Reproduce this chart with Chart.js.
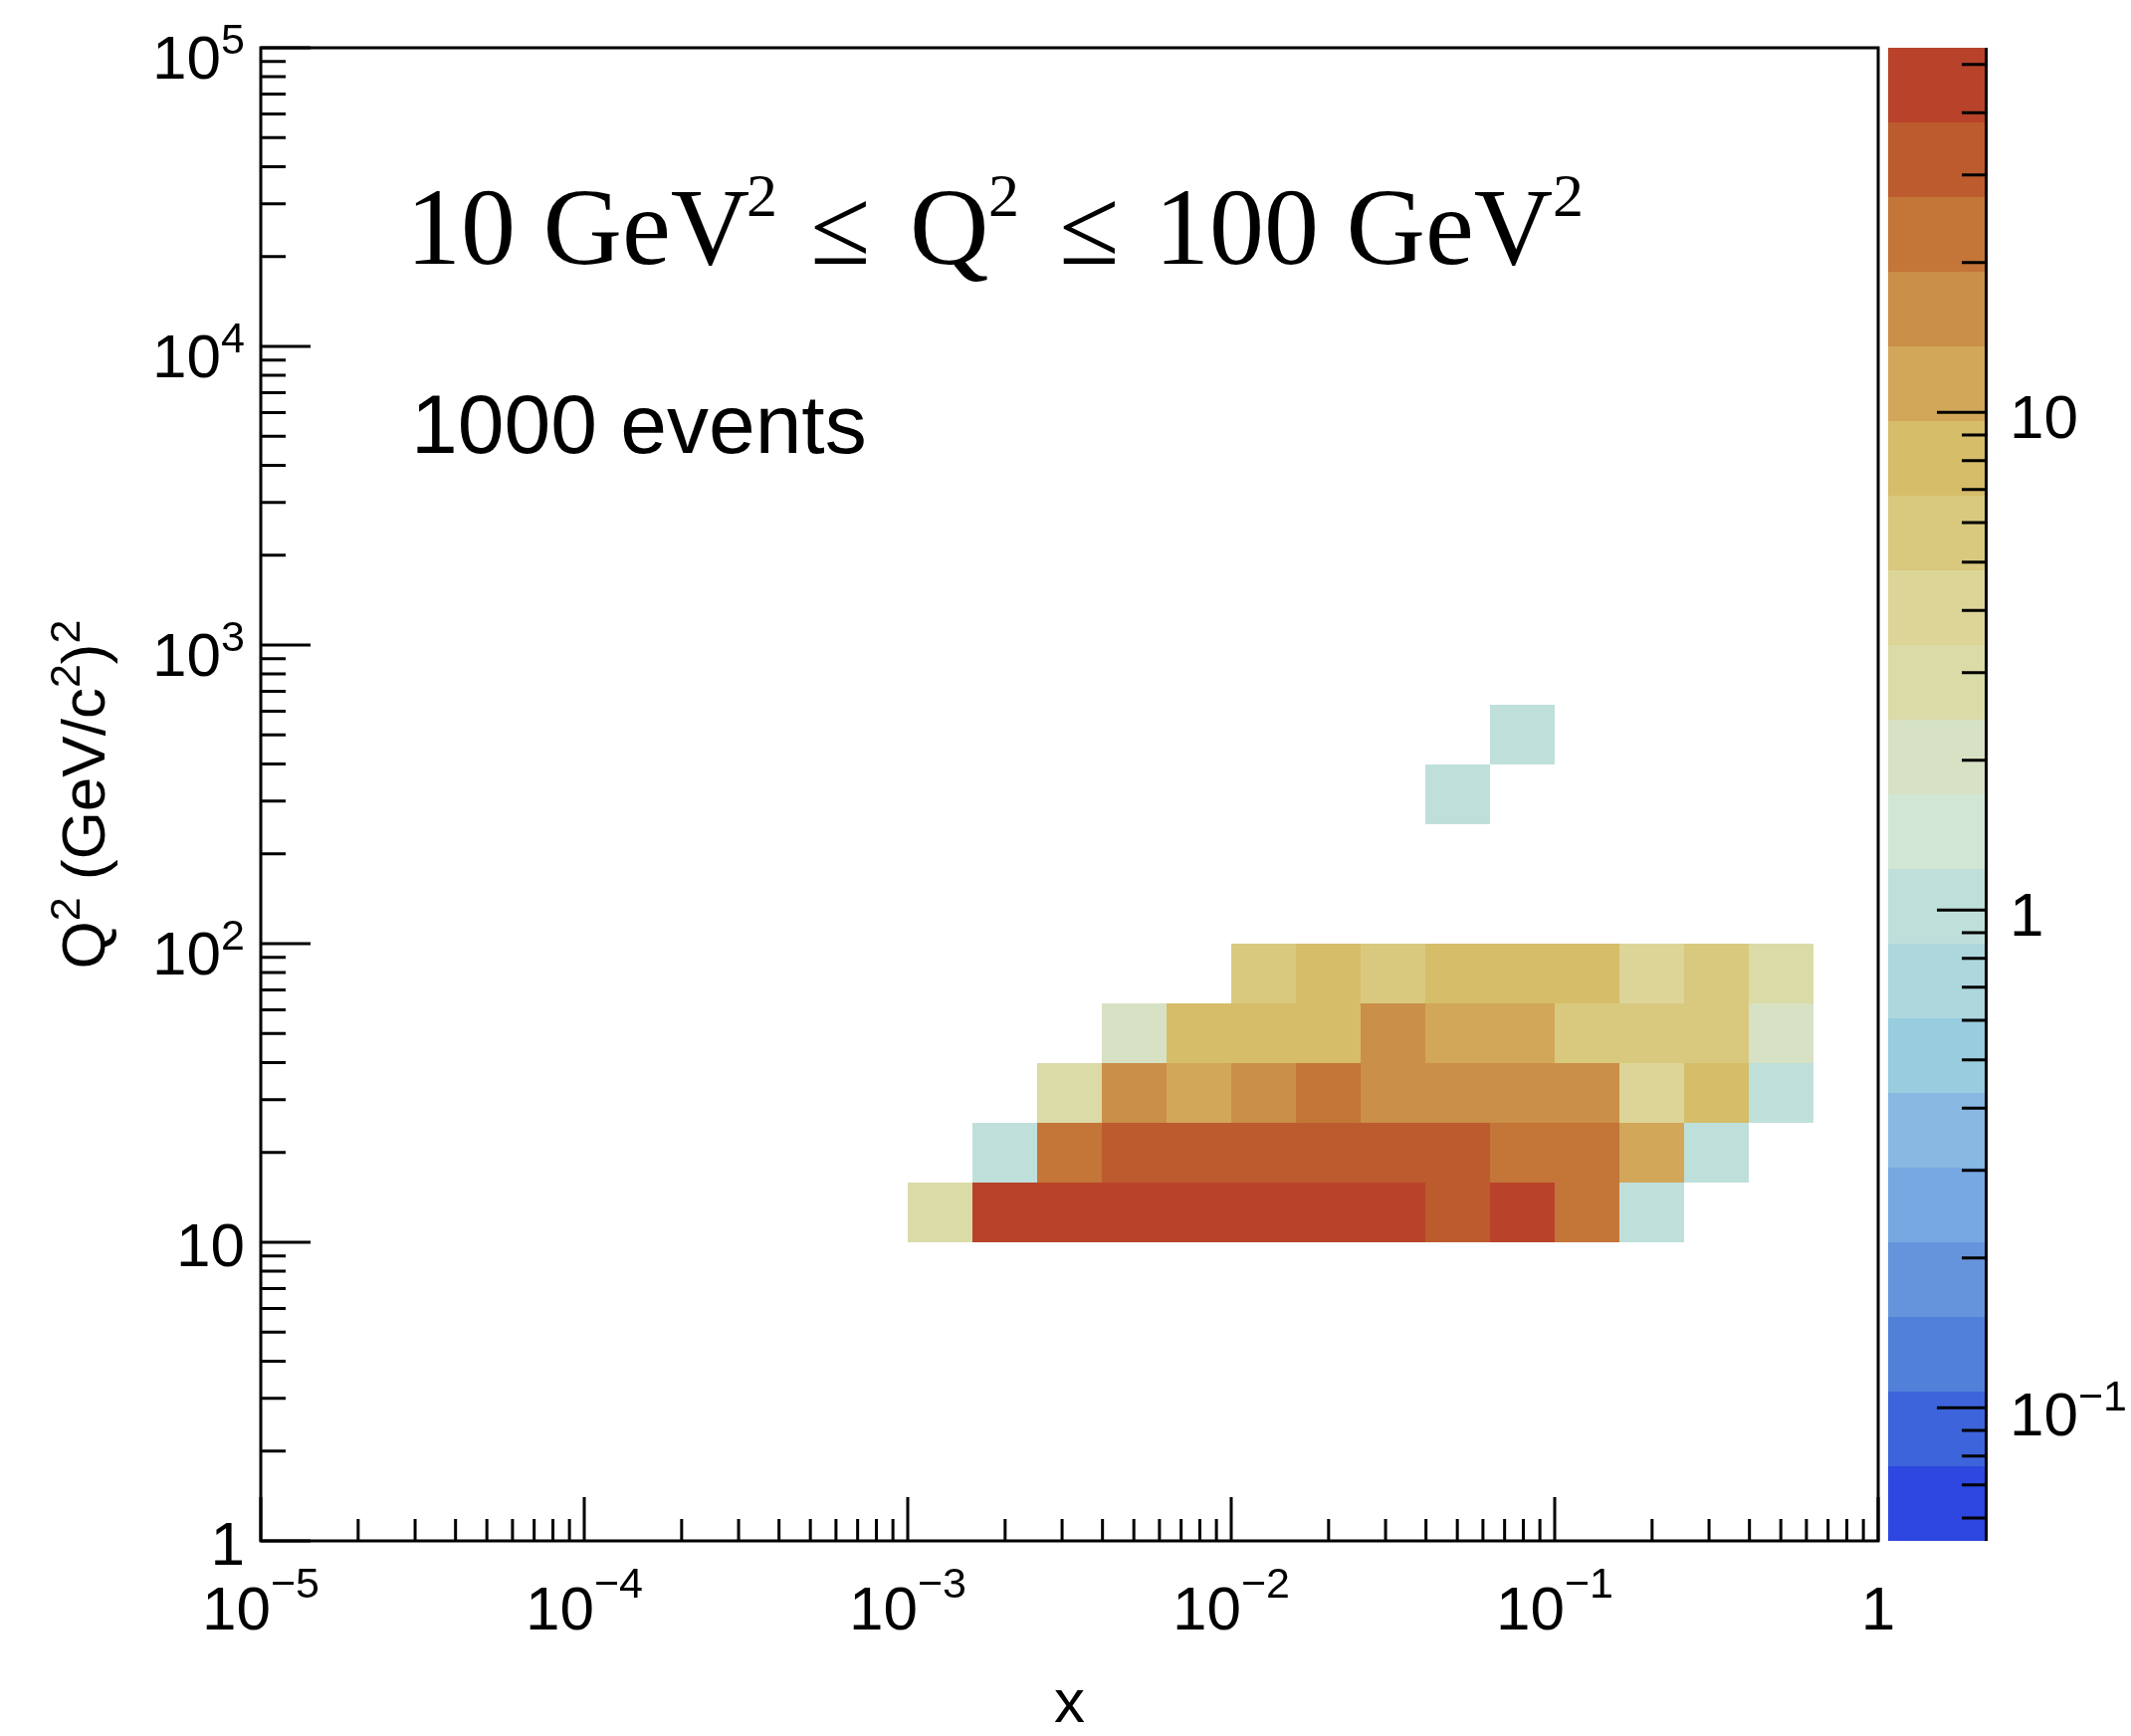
<!DOCTYPE html>
<html>
<head>
<meta charset="utf-8">
<script src="https://cdn.jsdelivr.net/npm/chart.js@4.4.1/dist/chart.umd.min.js"></script>
<style>
  html, body { margin: 0; padding: 0; background: #ffffff; }
  #wrap { width: 2141px; height: 1744px; }
</style>
</head>
<body>
<div id="wrap"><canvas id="c" width="2141" height="1744"></canvas></div>
<script>
// ---------------- data ----------------
// bin edges (x: Bjorken x, log bins of 0.2 decade; Q2 in GeV^2)
const xBinEdges = [0.001, 0.001585, 0.002512, 0.003981, 0.00631, 0.01, 0.01585, 0.02512, 0.03981, 0.0631, 0.1, 0.1585, 0.2512, 0.3981, 0.631];
const q2BinEdges = [10, 15.85, 25.12, 39.81, 63.1, 100, 158.5, 251.2, 398.1, 631];
// event counts per Q2 bin (one value per x bin, 0 = empty)
const countsQ2bin1 = [3, 44, 47, 50, 46, 49, 45, 42, 34, 40, 24, 1, 0, 0];
const countsQ2bin2 = [0, 1, 23, 30, 35, 33, 36, 31, 29, 25, 21, 12, 1, 0];
const countsQ2bin3 = [0, 0, 3, 17, 12, 16, 22, 18, 17, 15, 14, 4, 8, 1];
const countsQ2bin4 = [0, 0, 0, 2, 8, 9, 9, 15, 11, 12, 6, 6, 5, 2];
const countsQ2bin5 = [0, 0, 0, 0, 0, 6, 8, 6, 8, 9, 8, 4, 6, 3];
const countsQ2bin6 = [0, 0, 0, 0, 0, 0, 0, 0, 0, 0, 0, 0, 0, 0];
const countsQ2bin7 = [0, 0, 0, 0, 0, 0, 0, 0, 0, 0, 0, 0, 0, 0];
const countsQ2bin8 = [0, 0, 0, 0, 0, 0, 0, 0, 1, 0, 0, 0, 0, 0];
const countsQ2bin9 = [0, 0, 0, 0, 0, 0, 0, 0, 0, 1, 0, 0, 0, 0];

// axis ranges and tick labels
const xRange = [1e-5, 1];
const q2Range = [1, 1e5];
const zRange = [0.054, 54];
const xMajorTicks = [1e-5, 1e-4, 1e-3, 1e-2, 1e-1, 1];
const xTickLabels = ['10^\u22125', '10^\u22124', '10^\u22123', '10^\u22122', '10^\u22121', '1'];
const yMajorTicks = [1, 10, 100, 1000, 10000, 100000];
const yTickLabels = ['1', '10', '10^2', '10^3', '10^4', '10^5'];
const zMajorTicks = [0.1, 1, 10];
const zTickLabels = ['10^\u22121', '1', '10'];
const xTitle = 'x';
const yTitleParts = [['Q', 0], ['2', 1], [' (GeV/c', 0], ['2', 1], [')', 0], ['2', 1]];
const titleParts = [['10 GeV', 0], ['2', 1], ['\u2264', 0], ['Q', 0], ['2', 1], ['\u2264', 0], ['100 GeV', 0], ['2', 1]];
const eventsLabel = '1000 events';

// colour palette (low -> high), 20 contour levels
const palette = ['#2D47E0', '#3D64DA', '#5180D8', '#6694DC', '#78A8E2', '#88B9E2', '#98CCDF', '#ADD7DD',
                 '#BFE0DA', '#D1E6D5', '#D7E2C4', '#DBDBA8', '#DDD598', '#D9C97E', '#D6BD6A', '#D2A75A',
                 '#CA8F48', '#C47538', '#BC5C2E', '#B8432A'];

// ---------------- build cells ----------------
const countRows = [countsQ2bin1, countsQ2bin2, countsQ2bin3, countsQ2bin4, countsQ2bin5,
                   countsQ2bin6, countsQ2bin7, countsQ2bin8, countsQ2bin9];
const cells = [];
countRows.forEach((row, j) => {
  row.forEach((n, i) => {
    if (n > 0) {
      cells.push({
        x: Math.sqrt(xBinEdges[i] * xBinEdges[i + 1]),
        y: Math.sqrt(q2BinEdges[j] * q2BinEdges[j + 1]),
        v: n,
        xlo: xBinEdges[i], xhi: xBinEdges[i + 1],
        ylo: q2BinEdges[j], yhi: q2BinEdges[j + 1]
      });
    }
  });
});

function colorFor(v) {
  const l0 = Math.log10(zRange[0]), l1 = Math.log10(zRange[1]);
  let idx = Math.floor(palette.length * (Math.log10(v) - l0) / (l1 - l0));
  idx = Math.max(0, Math.min(palette.length - 1, idx));
  return palette[idx];
}

// ---------------- drawing helpers ----------------
const SANS = '"Liberation Sans", Arial, Helvetica, sans-serif';
const SERIF = '"Liberation Serif", "Times New Roman", Times, serif';

function supWidth(ctx, label, F, Fs) {
  const p = label.split('^');
  ctx.font = F + 'px ' + SANS;
  let w = ctx.measureText(p[0]).width;
  if (p.length > 1) { ctx.font = Fs + 'px ' + SANS; w += ctx.measureText(p[1]).width; }
  return w;
}
function drawSupLabel(ctx, label, x, base, align, F, Fs, raise) {
  const p = label.split('^');
  const w = supWidth(ctx, label, F, Fs);
  let sx = x;
  if (align === 'center') sx = x - w / 2;
  else if (align === 'right') sx = x - w;
  ctx.textAlign = 'left';
  ctx.textBaseline = 'alphabetic';
  ctx.font = F + 'px ' + SANS;
  ctx.fillText(p[0], sx, base);
  if (p.length > 1) {
    const w0 = ctx.measureText(p[0]).width;
    ctx.font = Fs + 'px ' + SANS;
    ctx.fillText(p[1], sx + w0, base - raise);
  }
}
function minorValues(lo, hi) {
  const out = [];
  for (let e = Math.round(Math.log10(lo)) - 1; e <= Math.round(Math.log10(hi)); e++) {
    for (let m = 2; m <= 9; m++) {
      const v = m * Math.pow(10, e);
      if (v > lo * 1.0001 && v < hi * 0.9999) out.push(v);
    }
  }
  return out;
}

// ---------------- plugins ----------------
const heatmapPlugin = {
  id: 'heatmapCells',
  beforeDatasetsDraw(chart) {
    const ctx = chart.ctx;
    const xs = chart.scales.x, ys = chart.scales.y;
    const ca = chart.chartArea;
    ctx.save();
    ctx.beginPath();
    ctx.rect(ca.left, ca.top, ca.right - ca.left, ca.bottom - ca.top);
    ctx.clip();
    chart.data.datasets[0].data.forEach(c => {
      const x0 = Math.round(xs.getPixelForValue(c.xlo));
      const x1 = Math.round(xs.getPixelForValue(c.xhi));
      const y0 = Math.round(ys.getPixelForValue(c.ylo));
      const y1 = Math.round(ys.getPixelForValue(c.yhi));
      ctx.fillStyle = colorFor(c.v);
      ctx.fillRect(x0, y1, x1 - x0, y0 - y1);
    });
    ctx.restore();
  }
};

const rootAxesPlugin = {
  id: 'rootAxes',
  afterDraw(chart) {
    const ctx = chart.ctx;
    const xs = chart.scales.x, ys = chart.scales.y, zs = chart.scales.z;
    const ca = chart.chartArea;
    ctx.save();
    ctx.fillStyle = '#000';
    ctx.strokeStyle = '#000';
    ctx.lineWidth = 3;
    ctx.lineCap = 'butt';

    // frame
    ctx.strokeRect(ca.left, ca.top, ca.right - ca.left, ca.bottom - ca.top);

    // x ticks (inside, from bottom)
    ctx.beginPath();
    xMajorTicks.forEach(v => {
      const px = xs.getPixelForValue(v);
      ctx.moveTo(px, ca.bottom); ctx.lineTo(px, ca.bottom - 44);
    });
    minorValues(xRange[0], xRange[1]).forEach(v => {
      const px = xs.getPixelForValue(v);
      ctx.moveTo(px, ca.bottom); ctx.lineTo(px, ca.bottom - 22);
    });
    // y ticks (inside, from left)
    yMajorTicks.forEach(v => {
      const py = ys.getPixelForValue(v);
      ctx.moveTo(ca.left, py); ctx.lineTo(ca.left + 50, py);
    });
    minorValues(q2Range[0], q2Range[1]).forEach(v => {
      const py = ys.getPixelForValue(v);
      ctx.moveTo(ca.left, py); ctx.lineTo(ca.left + 25, py);
    });
    ctx.stroke();

    // x tick labels
    xMajorTicks.forEach((v, i) => {
      const px = xs.getPixelForValue(v);
      drawSupLabel(ctx, xTickLabels[i], px, ca.bottom + 89, 'center', 62, 43, 32);
    });
    // y tick labels
    yMajorTicks.forEach((v, i) => {
      const py = ys.getPixelForValue(v);
      const hasExp = yTickLabels[i].indexOf('^') >= 0;
      drawSupLabel(ctx, yTickLabels[i], 246, py + (hasExp ? 31 : 24), 'right', 62, 43, 25);
    });

    // colour bar
    const cbL = 1897, cbR = 1995;
    const n = palette.length;
    const lz0 = Math.log10(zRange[0]), lz1 = Math.log10(zRange[1]);
    for (let i = 0; i < n; i++) {
      const lo = Math.pow(10, lz0 + (lz1 - lz0) * i / n);
      const hi = Math.pow(10, lz0 + (lz1 - lz0) * (i + 1) / n);
      const y0 = Math.round(zs.getPixelForValue(lo));
      const y1 = Math.round(zs.getPixelForValue(hi));
      ctx.fillStyle = palette[i];
      ctx.fillRect(cbL, y1, cbR - cbL, y0 - y1);
    }
    ctx.fillStyle = '#000';
    ctx.beginPath();
    ctx.moveTo(cbR + 0.5, zs.top); ctx.lineTo(cbR + 0.5, zs.bottom);
    zMajorTicks.forEach(v => {
      const py = zs.getPixelForValue(v);
      ctx.moveTo(cbR, py); ctx.lineTo(cbR - 49, py);
    });
    minorValues(zRange[0], zRange[1]).forEach(v => {
      const py = zs.getPixelForValue(v);
      ctx.moveTo(cbR, py); ctx.lineTo(cbR - 24, py);
    });
    ctx.stroke();
    zMajorTicks.forEach((v, i) => {
      const py = zs.getPixelForValue(v);
      const hasExp = zTickLabels[i].indexOf('^') >= 0;
      drawSupLabel(ctx, zTickLabels[i], 2019, py + (hasExp ? 28 : 26), 'left', 62, 43, 25);
    });

    // axis titles
    ctx.textAlign = 'center';
    ctx.textBaseline = 'alphabetic';
    ctx.font = '62px ' + SANS;
    ctx.fillText(xTitle, (ca.left + ca.right) / 2, 1730);

    ctx.save();
    ctx.translate(105, (ca.top + ca.bottom) / 2);
    ctx.rotate(-Math.PI / 2);
    let tw = 0;
    yTitleParts.forEach(([t, s]) => { ctx.font = (s ? 43 : 62) + 'px ' + SANS; tw += ctx.measureText(t).width; });
    let tx = -tw / 2;
    ctx.textAlign = 'left';
    yTitleParts.forEach(([t, s]) => {
      ctx.font = (s ? 43 : 62) + 'px ' + SANS;
      ctx.fillText(t, tx, s ? -25 : 0);
      tx += ctx.measureText(t).width;
    });
    ctx.restore();

    // in-plot texts
    const titleX = [408, 750, 814, 914, 993, 1064, 1160, 1560];
    ctx.textAlign = 'left';
    titleParts.forEach(([t, s], i) => {
      ctx.font = (s ? 62 : 110) + 'px ' + SERIF;
      ctx.fillText(t, titleX[i], s ? 217 : 265);
    });
    ctx.font = '84px ' + SANS;
    ctx.fillText(eventsLabel, 413, 455);

    ctx.restore();
  }
};

// ---------------- chart ----------------
new Chart(document.getElementById('c'), {
  type: 'scatter',
  data: {
    datasets: [{
      label: 'events',
      data: cells,
      pointRadius: 0,
      pointHoverRadius: 0,
      showLine: false
    }]
  },
  options: {
    responsive: false,
    animation: false,
    devicePixelRatio: 1,
    layout: { padding: { left: 262, right: 254, top: 48, bottom: 196 } },
    plugins: { legend: { display: false }, tooltip: { enabled: false }, title: { display: false } },
    scales: {
      x: { type: 'logarithmic', min: xRange[0], max: xRange[1], display: false },
      y: { type: 'logarithmic', min: q2Range[0], max: q2Range[1], display: false },
      z: { type: 'logarithmic', axis: 'y', position: 'right', min: zRange[0], max: zRange[1], display: false }
    }
  },
  plugins: [heatmapPlugin, rootAxesPlugin]
});
</script>
</body>
</html>
